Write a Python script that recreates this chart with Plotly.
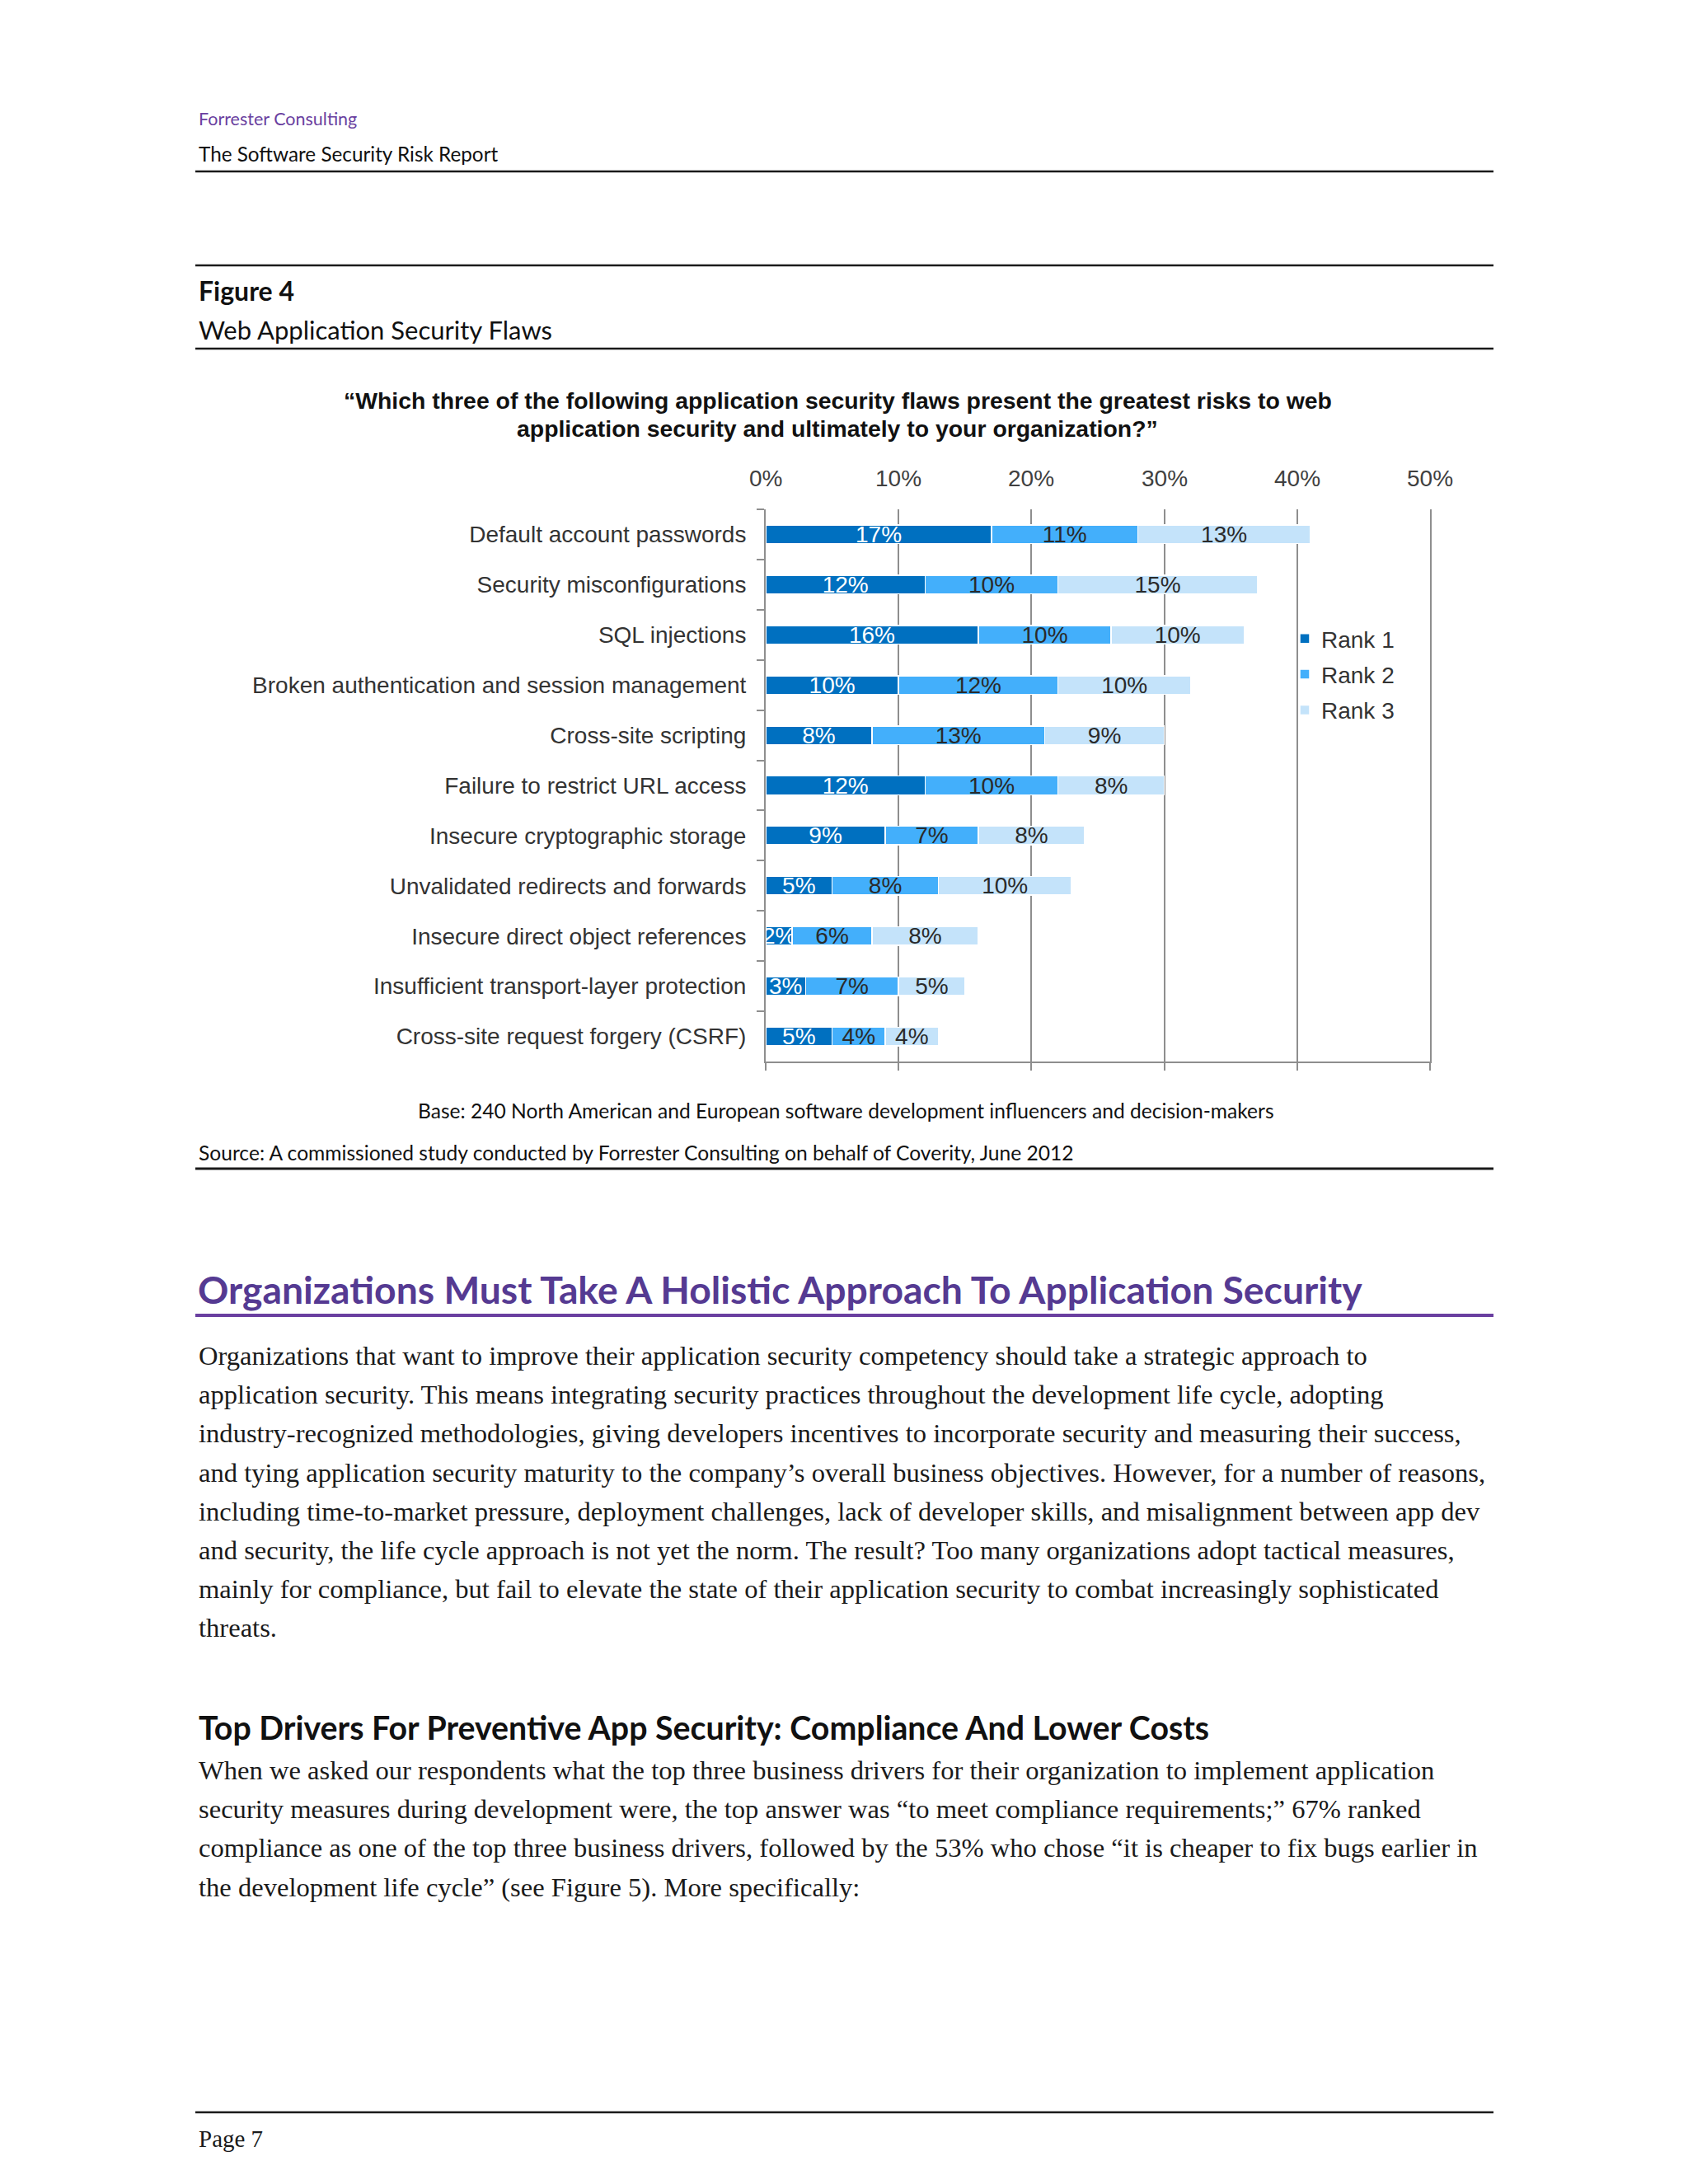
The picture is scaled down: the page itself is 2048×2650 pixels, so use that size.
import plotly.graph_objects as go

# ---------------- data ----------------
categories = [
    "Default account passwords",
    "Security misconfigurations",
    "SQL injections",
    "Broken authentication and session management",
    "Cross-site scripting",
    "Failure to restrict URL access",
    "Insecure cryptographic storage",
    "Unvalidated redirects and forwards",
    "Insecure direct object references",
    "Insufficient transport-layer protection",
    "Cross-site request forgery (CSRF)",
]
rank1 = [17, 12, 16, 10, 8, 12, 9, 5, 2, 3, 5]
rank2 = [11, 10, 10, 12, 13, 10, 7, 8, 6, 7, 4]
rank3 = [13, 15, 10, 10, 9, 8, 8, 10, 8, 5, 4]
series_names = ["Rank 1", "Rank 2", "Rank 3"]
tick_values = [0, 10, 20, 30, 40, 50]
tick_labels = ["0%", "10%", "20%", "30%", "40%", "50%"]

para1 = [
    "Organizations that want to improve their application security competency should take a strategic approach to",
    "application security. This means integrating security practices throughout the development life cycle, adopting",
    "industry-recognized methodologies, giving developers incentives to incorporate security and measuring their success,",
    "and tying application security maturity to the company\u2019s overall business objectives. However, for a number of reasons,",
    "including time-to-market pressure, deployment challenges, lack of developer skills, and misalignment between app dev",
    "and security, the life cycle approach is not yet the norm. The result? Too many organizations adopt tactical measures,",
    "mainly for compliance, but fail to elevate the state of their application security to combat increasingly sophisticated",
    "threats.",
]
para2 = [
    "When we asked our respondents what the top three business drivers for their organization to implement application",
    "security measures during development were, the top answer was \u201cto meet compliance requirements;\u201d 67% ranked",
    "compliance as one of the top three business drivers, followed by the 53% who chose \u201cit is cheaper to fix bugs earlier in",
    "the development life cycle\u201d (see Figure 5). More specifically:",
]

# ---------------- layout geometry (pixels) ----------------
W_FIG, H_FIG = 2048, 2650
L, R, T, B = 929, 1735, 618, 1288
PW, PH = R - L, B - T


def px(x):
    return (x - L) / PW


def py(y):
    return 1 - (y - T) / PH


colors = ["#0070C0", "#43AFFB", "#C4E3FA"]
text_colors = ["#FFFFFF", "#2A2A2A", "#2A2A2A"]
AXIS_GREY = "#8E8E8E"
SANS = "Liberation Sans, Arial, sans-serif"
HUM = "Lato, Open Sans, sans-serif"
SERIF = "Liberation Serif, Times New Roman, serif"

fig = go.Figure()
for name, vals, c, tc in zip(series_names, [rank1, rank2, rank3], colors, text_colors):
    fig.add_trace(go.Bar(
        orientation="h",
        y=categories,
        x=vals,
        name=name,
        legendgroup=name,
        marker=dict(color=c, line=dict(color="#FFFFFF", width=1.5)),
        text=[f"{v}%" for v in vals],
        textposition="inside",
        insidetextanchor="middle",
        textangle=0,
        textfont=dict(family=SANS, size=28, color=tc),
        cliponaxis=False,
        hoverinfo="skip",
    ))

annotations = []

# top tick labels placed through the x axis scale
for v, lab in zip(tick_values, tick_labels):
    annotations.append(dict(
        x=v, y=1, xref="x", yref="paper", text=lab, showarrow=False,
        xanchor="center", yanchor="bottom", yshift=20,
        font=dict(family=SANS, size=28, color="#404040"),
    ))


def add_text(x, y, text, size, color="#111111", family=HUM, xanchor="left", bold=False):
    if bold:
        text = f"<b>{text}</b>"
    annotations.append(dict(
        x=px(x), y=py(y), xref="paper", yref="paper", text=text, showarrow=False,
        xanchor=xanchor, yanchor="middle", align=xanchor if xanchor != "center" else "center",
        font=dict(family=family, size=size, color=color),
    ))


add_text(239, 144, "Forrester Consulting", 21.5, color="#6A3FA0")
add_text(239, 186, "The Software Security Risk Report", 24.3)
add_text(239, 352, "Figure 4", 32, bold=True)
add_text(239, 400, "Web Application Security Flaws", 31)
add_text(1016, 486, "\u201cWhich three of the following application security flaws present the greatest risks to web",
         28.4, family=SANS, xanchor="center", bold=True)
add_text(1016, 520, "application security and ultimately to your organization?\u201d",
         28.4, family=SANS, xanchor="center", bold=True)
add_text(1026, 1347, "Base: 240 North American and European software development influencers and decision-makers",
         24.6, xanchor="center")
add_text(239, 1398, "Source: A commissioned study conducted by Forrester Consulting on behalf of Coverity, June 2012", 24.6)
add_text(238, 1564, "Organizations Must Take A Holistic Approach To Application Security", 46.3,
         color="#553A92", bold=True)
for i, line in enumerate(para1):
    add_text(239, 1645 + i * 47.2, line, 32.6, color="#1A1A1A", family=SERIF)
add_text(239, 2095, "Top Drivers For Preventive App Security: Compliance And Lower Costs", 39.3, bold=True)
for i, line in enumerate(para2):
    add_text(239, 2148 + i * 47.2, line, 32.6, color="#1A1A1A", family=SERIF)
add_text(239, 2595, "Page 7", 29, color="#1A1A1A", family=SERIF)

shapes = []


def hline(y, width=2.5, color="#1A1A1A"):
    shapes.append(dict(type="line", xref="paper", yref="paper",
                       x0=px(237), x1=px(1812), y0=py(y), y1=py(y),
                       line=dict(color=color, width=width)))


hline(208)
hline(322)
hline(423)
hline(1418, width=3)
hline(1596, width=4, color="#6A3FA0")
hline(2563)

fig.update_layout(
    width=W_FIG, height=H_FIG, autosize=False,
    margin=dict(l=L, r=W_FIG - R, t=T, b=H_FIG - B, pad=0),
    paper_bgcolor="white", plot_bgcolor="white",
    barmode="stack", bargap=0.63,
    showlegend=True,
    legend=dict(x=px(1563), y=py(750), xanchor="left", yanchor="top",
                traceorder="grouped", tracegroupgap=4, itemwidth=30,
                font=dict(family=SANS, size=28, color="#333333"),
                bgcolor="rgba(0,0,0,0)"),
    uniformtext=dict(minsize=28, mode="show"),
    annotations=annotations,
    shapes=shapes,
    xaxis=dict(range=[0, 50], side="bottom", tickvals=tick_values,
               showticklabels=False, ticks="outside", ticklen=9, tickwidth=2,
               tickcolor=AXIS_GREY, showline=True, linecolor=AXIS_GREY, linewidth=2,
               showgrid=True, gridcolor=AXIS_GREY, gridwidth=2, zeroline=False,
               fixedrange=True),
    yaxis=dict(type="category", categoryorder="array", categoryarray=categories,
               autorange="reversed", showline=True, mirror=True, linecolor=AXIS_GREY,
               linewidth=2, ticks="outside", tickson="boundaries", ticklen=9, tickwidth=2,
               tickcolor=AXIS_GREY, showgrid=False, ticklabelstandoff=16,
               tickfont=dict(family=SANS, size=28, color="#333333")),
)

fig.write_html("out.html", config={"displayModeBar": False},
               post_script="document.body.style.margin='0';")
